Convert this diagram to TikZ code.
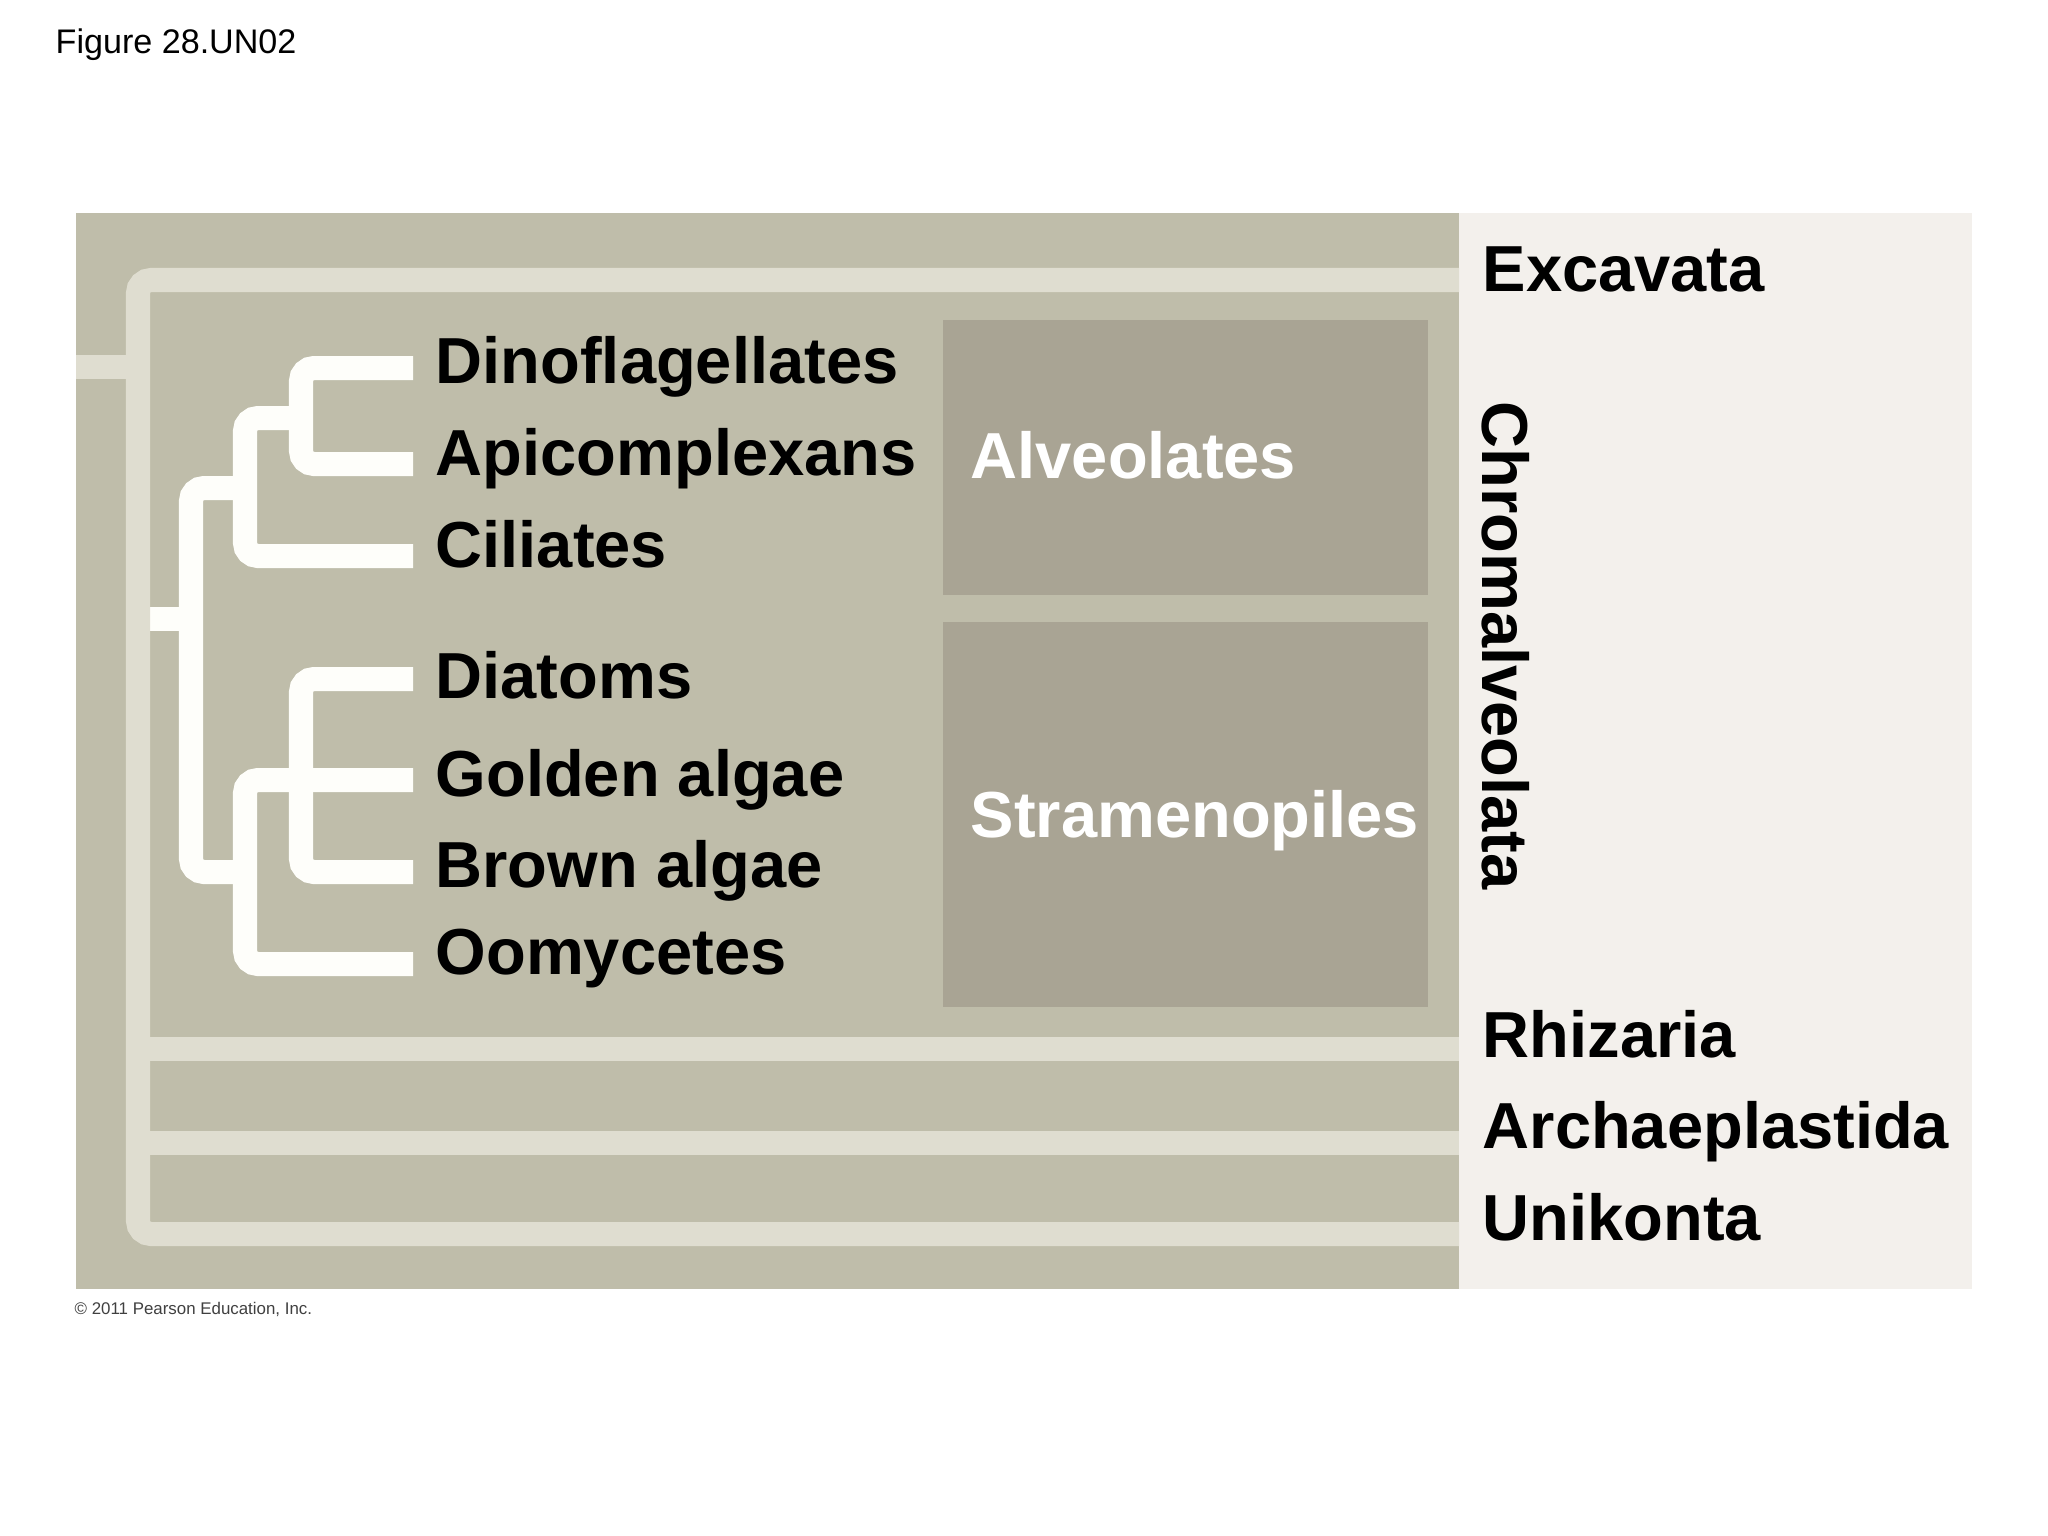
\documentclass[tikz,border=0pt]{standalone}
\usepackage{fontspec}
\setmainfont{Liberation Sans}
\definecolor{panelgray}{HTML}{BFBDAA}
\definecolor{boxgray}{HTML}{A9A494}
\definecolor{linelight}{HTML}{DFDDD0}
\definecolor{treewhite}{HTML}{FEFEFA}
\definecolor{sidepanel}{HTML}{F3F0EC}

\begin{document}
\begin{tikzpicture}[x=0.01cm,y=-0.01cm,
	outer/.style={line width=0.24cm,color=linelight,rounded corners=0.13cm},
	tree/.style={line width=0.24cm,color=treewhite,rounded corners=0.13cm},
	taxon/.style={font=\fontsize{18.5}{22}\selectfont\bfseries,anchor=base west,inner sep=0pt},
	group/.style={taxon,text=white}]
	\useasboundingbox[fill=white] (0,0) rectangle (2048,1536);
	\fill[panelgray] (76,213) rectangle (1459,1289);
	\fill[sidepanel] (1459,213) rectangle (1972,1289);
	\fill[boxgray] (943,320) rectangle (1428,595);
	\fill[boxgray] (943,622) rectangle (1428,1007);

	% leaf ends and inner joints
	\coordinate (tDino) at (413,368);
	\coordinate (tApi) at (413,464);
	\coordinate (tCil) at (413,556);
	\coordinate (tDiat) at (413,679);
	\coordinate (tGold) at (413,780);
	\coordinate (tBrown) at (413,872);
	\coordinate (tOomy) at (413,964);
	\coordinate (jDA) at (301,418);
	\coordinate (jAlv) at (245,488);
	\coordinate (jStr) at (245,872);
	\coordinate (jChr) at (191,619);
	\coordinate (jRoot) at (138,367);

	\draw[tree] (tDino) -| (301,416) |- (tApi);
	\draw[tree] (jDA) -| (245,500) |- (tCil);
	\draw[tree] (tDiat) -| (301,780) |- (tBrown);
	\draw[tree] (tGold) -| (245,900) |- (tOomy);
	\draw[tree] (jAlv) -| (jChr) |- (jStr);
	\draw[tree] (jChr) -- (138,619);

	\draw[outer] (1459,280) -| (jRoot) |- (1459,1234);
	\draw[outer] (76,367) -- (jRoot);
	\draw[outer] (138,1049) -- (1459,1049);
	\draw[outer] (138,1143) -- (1459,1143);

	\node[taxon] (dino) at (435,383) {Dinoflagellates};
	\node[taxon] (api) at (435,475) {Apicomplexans};
	\node[taxon] (cil) at (435,567) {Ciliates};
	\node[taxon] (diat) at (435,698) {Diatoms};
	\node[taxon] (gold) at (435,796) {Golden algae};
	\node[taxon] (brown) at (435,887) {Brown algae};
	\node[taxon] (oomy) at (435,974) {Oomycetes};
	\node[group] (alv) at (970,478) {Alveolates};
	\node[group] (stra) at (970,837) {Stramenopiles};

	\node[taxon] (exc) at (1482,291) {Excavata};
	\node[taxon,rotate=-90] (chrom) at (1482,401) {Chromalveolata};
	\node[taxon] (rhiz) at (1482,1057) {Rhizaria};
	\node[taxon] (arch) at (1482,1148) {Archaeplastida};
	\node[taxon] (unik) at (1482,1240) {Unikonta};

	\node[anchor=base west,inner sep=0pt,font=\fontsize{9.7}{12}\selectfont] (fig) at (55,53) {Figure 28.UN02};
	\node[anchor=base west,inner sep=0pt,font=\fontsize{4.8}{6}\selectfont,text=black!75] (copy) at (74,1314) {© 2011 Pearson Education, Inc.};
\end{tikzpicture}
\end{document}
